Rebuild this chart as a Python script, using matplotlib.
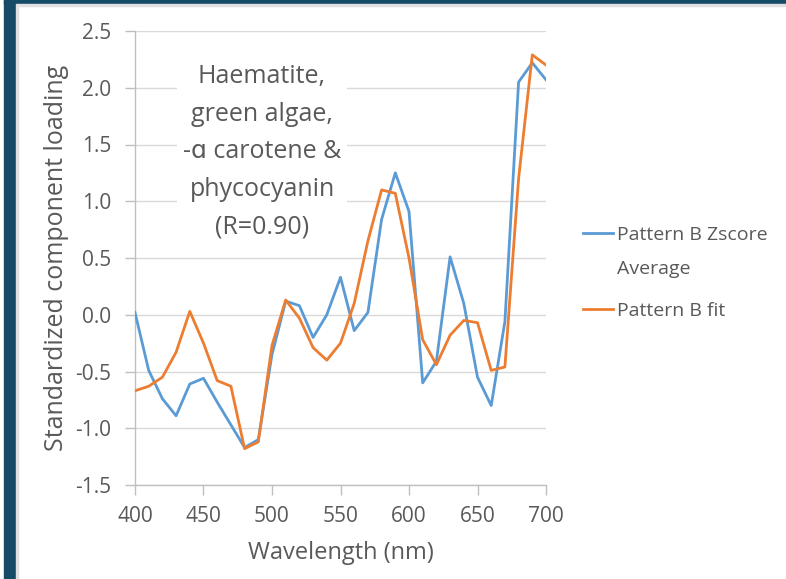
import matplotlib
matplotlib.use("Agg")
import matplotlib.pyplot as plt
from matplotlib.patches import Rectangle

plt.rcParams['font.family'] = ['Open Sans', 'DejaVu Sans']

wavelength = [400, 410, 420, 430, 440, 450, 460, 470, 480, 490,
              500, 510, 520, 530, 540, 550, 560, 570, 580, 590,
              600, 610, 620, 630, 640, 650, 660, 670, 680, 690, 700]

zscore_avg = [0.02, -0.49, -0.74, -0.89, -0.61, -0.56, -0.77, -0.97, -1.17, -1.10,
              -0.35, 0.12, 0.08, -0.20, 0.0, 0.33, -0.14, 0.02, 0.84, 1.25,
              0.91, -0.60, -0.41, 0.51, 0.10, -0.55, -0.80, -0.06, 2.05, 2.22, 2.07]

pattern_fit = [-0.67, -0.63, -0.55, -0.33, 0.03, -0.25, -0.58, -0.63, -1.18, -1.12,
               -0.27, 0.13, -0.03, -0.29, -0.40, -0.25, 0.10, 0.65, 1.10, 1.07,
               0.50, -0.22, -0.44, -0.18, -0.05, -0.07, -0.49, -0.46, 1.20, 2.29, 2.20]

# first legend label wraps onto a second line ("Average") under the text
series_names = ['Pattern B Zscore', 'Pattern B fit']
name_wrap = 'Average'
note = 'Haematite,\ngreen algae,\n-\u0251 carotene &\nphycocyanin\n(R=0.90)'

W, H = 786, 579
fig = plt.figure(figsize=(W / 100, H / 100), dpi=100)

# dark frame from the slide behind the chart
navy = '#164b68'
fig.patches.append(Rectangle((4 / W, 0), 12 / W, 1, transform=fig.transFigure, color=navy, zorder=0))
fig.patches.append(Rectangle((4 / W, 1 - 4 / H), 1, 4 / H, transform=fig.transFigure, color=navy, zorder=0))
fig.patches.append(Rectangle((16 / W, 0), 2 / W, 1 - 4 / H, transform=fig.transFigure, color='#e0e0e0', zorder=0))
fig.patches.append(Rectangle((18 / W, 1 - 6 / H), 1, 2 / H, transform=fig.transFigure, color='#e0e0e0', zorder=0))

ax = fig.add_axes([135 / W, 1 - 485 / H, 411 / W, 454 / H])

ax.plot(wavelength, zscore_avg, color='#5b9bd5', lw=2.0, label=series_names[0], zorder=3)
ax.plot(wavelength, pattern_fit, color='#ed7d31', lw=2.0, label=series_names[1], zorder=3)

ax.set_xlim(400, 700)
ax.set_ylim(-1.5, 2.5)
ax.set_xticks(range(400, 701, 50))
ax.set_yticks([-1.5, -1.0, -0.5, 0.0, 0.5, 1.0, 1.5, 2.0, 2.5])
ax.set_yticklabels([f'{v:.1f}' for v in ax.get_yticks()])
ax.grid(axis='y', color='#d9d9d9', lw=1.0)
ax.set_axisbelow(True)

for s in ['top', 'right']:
    ax.spines[s].set_visible(False)
for s in ['left', 'bottom']:
    ax.spines[s].set_color('#bfbfbf')
    ax.spines[s].set_linewidth(1.0)
ax.tick_params(colors='#bfbfbf', labelcolor='#595959', labelsize=15, length=7, width=1.0)
ax.tick_params(axis='y', pad=10)
ax.tick_params(axis='x', pad=8)

ax.set_xlabel('Wavelength (nm)', fontsize=17, color='#595959')
ax.set_ylabel('Standardized component loading', fontsize=18, color='#595959')
ax.xaxis.label.set_va('center')
ax.yaxis.label.set_va('center')
ax.xaxis.set_label_coords(0.5, -(553 - 485) / 454)
ax.yaxis.set_label_coords((57 - 135) / 411, 0.5)

ax.text((262 - 135) / 411, 1 - (152 - 31) / 454, note, transform=ax.transAxes,
        ha='center', va='center', fontsize=18, color='#595959', linespacing=1.66,
        bbox=dict(facecolor='white', edgecolor='none', pad=4), zorder=2)

leg = ax.legend(loc='upper left', bbox_to_anchor=(579 / W, 1 - 222 / H),
                bbox_transform=fig.transFigure, frameon=False, fontsize=14,
                handlelength=1.55, handletextpad=0.2, labelspacing=3.0,
                borderpad=0.2, borderaxespad=0)
for t in leg.get_texts():
    t.set_color('#595959')

fig.text(617 / W, 1 - 269 / H, name_wrap, fontsize=14, color='#595959',
         ha='left', va='center')

fig.savefig('out.png', dpi=100)
